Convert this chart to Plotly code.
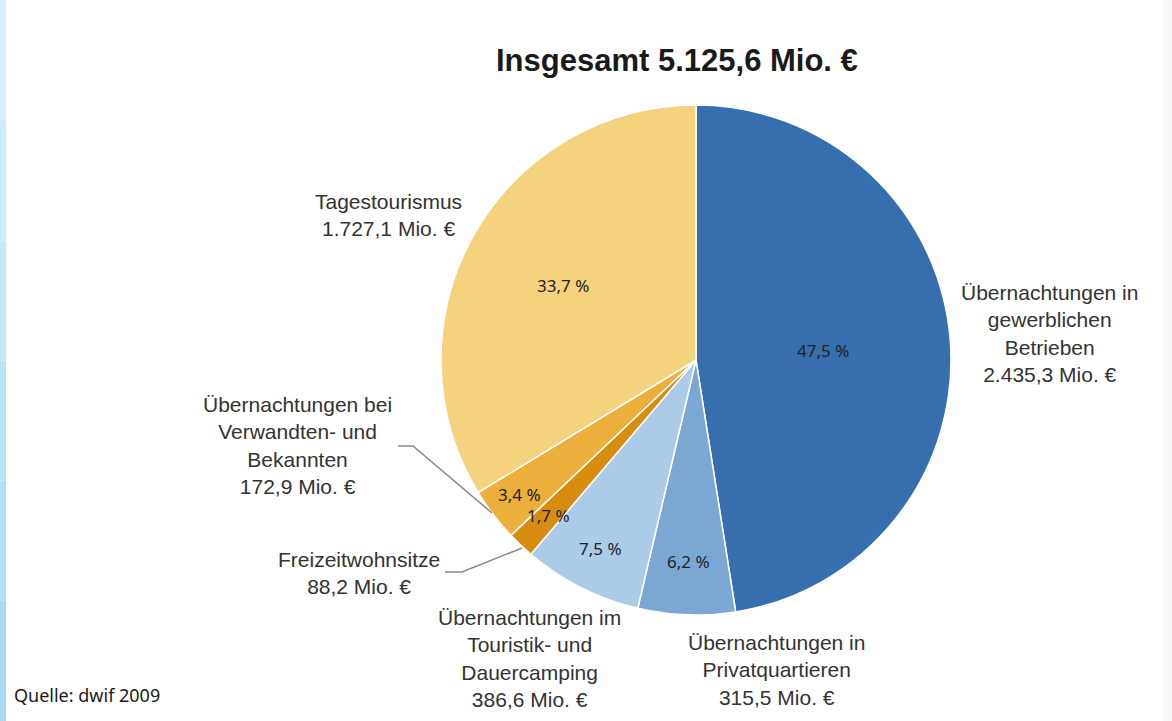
import math
import plotly.graph_objects as go

# ---- data ----
segments = [
    "Übernachtungen in gewerblichen Betrieben",
    "Übernachtungen in Privatquartieren",
    "Übernachtungen im Touristik- und Dauercamping",
    "Freizeitwohnsitze",
    "Übernachtungen bei Verwandten- und Bekannten",
    "Tagestourismus",
]
values_mio = [2435.3, 315.5, 386.6, 88.2, 172.9, 1727.1]
label_texts = [
    "Übernachtungen in<br>gewerblichen<br>Betrieben<br>2.435,3 Mio. €",
    "Übernachtungen in<br>Privatquartieren<br>315,5 Mio. €",
    "Übernachtungen im<br>Touristik- und<br>Dauercamping<br>386,6 Mio. €",
    "Freizeitwohnsitze<br>88,2 Mio. €",
    "Übernachtungen bei<br>Verwandten- und<br>Bekannten<br>172,9 Mio. €",
    "Tagestourismus<br>1.727,1 Mio. €",
]
title_text = "Insgesamt 5.125,6 Mio. €"
source_text = "Quelle: dwif 2009"

# ---- styles / layout ----
colors = ["#376fae", "#7ba7d5", "#abcbe9", "#d68d10", "#ecaf3b", "#f5d37e"]
W, H = 1172, 721
CX, CY, R = 696, 360, 255
pct_radius = [0.5, 0.79, 0.83, 0.84, 0.87, 0.6]
label_pos = [(1049, 333), (776, 670), (529, 658), (359, 573), (297, 446), (388, 215)]
LABEL_FONT = "Arial, 'Liberation Sans', sans-serif"
PCT_FONT = "'Noto Sans', sans-serif"


def px(x):
    return x / W


def py(y):
    return 1 - y / H


fig = go.Figure(go.Pie(
    labels=segments,
    values=values_mio,
    sort=False,
    direction="clockwise",
    rotation=0,
    marker=dict(colors=colors, line=dict(color="white", width=1.5)),
    textinfo="none",
    hoverinfo="label+value+percent",
    showlegend=False,
    domain=dict(x=[px(CX - R), px(CX + R)], y=[py(CY + R), py(CY - R)]),
))

annotations = []
total = sum(values_mio)
cum = 0.0
for v, f in zip(values_mio, pct_radius):
    mid = (cum + v / 2) / total * 2 * math.pi
    cum += v
    x = CX + f * R * math.sin(mid)
    y = CY - f * R * math.cos(mid)
    pct = f"{v / total * 100:.1f}".replace(".", ",") + " %"
    annotations.append(dict(
        x=px(x), y=py(y), xref="paper", yref="paper", text=pct, showarrow=False,
        font=dict(family=PCT_FONT, size=17, color="#222222"),
        xanchor="center", yanchor="middle",
    ))

for t, (lx, ly) in zip(label_texts, label_pos):
    annotations.append(dict(
        x=px(lx), y=py(ly), xref="paper", yref="paper", text=t, showarrow=False,
        font=dict(family=LABEL_FONT, size=21, color="#333333"),
        xanchor="center", yanchor="middle", align="center",
    ))

annotations.append(dict(
    x=px(677), y=py(61), xref="paper", yref="paper", text=f"<b>{title_text}</b>",
    showarrow=False, font=dict(family=LABEL_FONT, size=31, color="#1a1a1a"),
    xanchor="center", yanchor="middle",
))
annotations.append(dict(
    x=px(12), y=py(695), xref="paper", yref="paper", text=source_text,
    showarrow=False, font=dict(family=PCT_FONT, size=18, color="#1a1a1a"),
    xanchor="left", yanchor="middle",
))

shapes = []
# left light-blue edge strip
strip_cols = ["#d9eff9", "#d0ebf8", "#c6e7f6", "#bce3f5", "#b2dff3", "#a8dbf2"]
n = len(strip_cols)
for i, c in enumerate(strip_cols):
    shapes.append(dict(type="rect", xref="paper", yref="paper",
                       x0=0, x1=px(6), y0=1 - (i + 1) / n, y1=1 - i / n,
                       fillcolor=c, line=dict(width=0), layer="below"))
# faint right edge
shapes.append(dict(type="rect", xref="paper", yref="paper",
                   x0=px(1163), x1=1, y0=0, y1=1,
                   fillcolor="#f8f8f8", line=dict(width=0), layer="below"))


def path(points):
    return "M " + " L ".join(f"{px(x)},{py(y)}" for x, y in points)


# leader lines
shapes.append(dict(type="path", xref="paper", yref="paper",
                   path=path([(398, 446), (413, 446), (492, 513)]),
                   line=dict(color="#8a8a8a", width=1.5)))
shapes.append(dict(type="path", xref="paper", yref="paper",
                   path=path([(445, 572), (462, 572), (522, 548)]),
                   line=dict(color="#8a8a8a", width=1.5)))

fig.update_layout(
    width=W, height=H,
    margin=dict(l=0, r=0, t=0, b=0),
    paper_bgcolor="white", plot_bgcolor="white",
    annotations=annotations, shapes=shapes,
)

fig.write_html("out.html", config={"displayModeBar": False},
               post_script="document.body.style.margin='0';document.body.style.padding='0';")
